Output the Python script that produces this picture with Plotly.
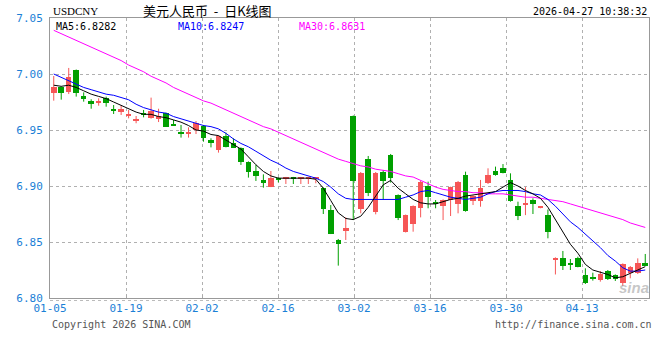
import plotly.graph_objects as go

# ---------------- data ----------------
tick_labels = ["01-05", "01-19", "02-02", "02-16", "03-02", "03-16", "03-30", "04-13"]

opens = [6.9833, 6.9887, 6.9842, 7.0036, 6.9804, 6.9759, 6.9744, 6.9783, 6.9688, 6.9661,
         6.9628, 6.9580, 6.9652, 6.9610, 6.9601, 6.9649, 6.9554, 6.9479, 6.9461, 6.9500,
         6.9536, 6.9410, 6.9320, 6.9446, 6.9387, 6.9342, 6.9217, 6.9134, 6.9054, 6.8994,
         6.9075, 6.9060, 6.9078, 6.9060, 6.9066, 6.9066, 6.8985, 6.8786, 6.8518, 6.8601,
         6.9625, 6.8798, 6.9238, 6.8771, 6.9125, 6.9277, 6.8920, 6.8592, 6.8658, 6.8806,
         6.9000, 6.8860, 6.8824, 6.8875, 6.8836, 6.9098, 6.8866, 6.8866, 6.9024, 6.9134,
         6.9158, 6.9054, 6.8824, 6.8827, 6.8875, 6.8804, 6.8741, 6.8340, 6.8354, 6.8310,
         6.8354, 6.8205, 6.8190, 6.8160, 6.8240, 6.8205, 6.8131, 6.8220, 6.8220, 6.8310]
highs = [6.9982, 6.9890, 7.0054, 7.0040, 6.9836, 6.9774, 6.9783, 6.9798, 6.9723, 6.9720,
         6.9679, 6.9625, 6.9679, 6.9789, 6.9690, 6.9655, 6.9589, 6.9545, 6.9524, 6.9580,
         6.9545, 6.9426, 6.9452, 6.9476, 6.9426, 6.9345, 6.9220, 6.9188, 6.9104, 6.9134,
         6.9078, 6.9081, 6.9081, 6.9081, 6.9075, 6.9078, 6.8988, 6.8830, 6.8527, 6.8720,
         6.9630, 6.9125, 6.9268, 6.9125, 6.9143, 6.9286, 6.8925, 6.8745, 6.8827, 6.9045,
         6.9039, 6.8875, 6.8881, 6.8994, 6.9045, 6.9128, 6.8917, 6.9054, 6.9158, 6.9173,
         6.9196, 6.9113, 6.8860, 6.8990, 6.8890, 6.8813, 6.8790, 6.8363, 6.8420, 6.8348,
         6.8369, 6.8265, 6.8226, 6.8240, 6.8250, 6.8211, 6.8309, 6.8286, 6.8354, 6.8393]
lows = [6.9762, 6.9771, 6.9821, 6.9798, 6.9753, 6.9690, 6.9717, 6.9708, 6.9643, 6.9634,
        6.9604, 6.9560, 6.9613, 6.9601, 6.9571, 6.9530, 6.9539, 6.9432, 6.9432, 6.9464,
        6.9396, 6.9345, 6.9298, 6.9345, 6.9339, 6.9188, 6.9075, 6.9045, 6.8985, 6.8990,
        6.9033, 6.9018, 6.9018, 6.9018, 6.9018, 6.9024, 6.8750, 6.8571, 6.8289, 6.8518,
        6.8696, 6.8756, 6.8910, 6.8747, 6.8875, 6.9030, 6.8696, 6.8585, 6.8592, 6.8720,
        6.8801, 6.8801, 6.8696, 6.8732, 6.8756, 6.8771, 6.8830, 6.8815, 6.9018, 6.9092,
        6.9113, 6.8860, 6.8696, 6.8740, 6.8750, 6.8801, 6.8533, 6.8210, 6.8250, 6.8250,
        6.8274, 6.8125, 6.8155, 6.8146, 6.8161, 6.8152, 6.8107, 6.8176, 6.8214, 6.8286]
closes = [6.9887, 6.9827, 6.9976, 6.9827, 6.9780, 6.9729, 6.9750, 6.9738, 6.9673, 6.9690,
          6.9637, 6.9598, 6.9637, 6.9670, 6.9625, 6.9530, 6.9539, 6.9470, 6.9485, 6.9560,
          6.9432, 6.9387, 6.9446, 6.9351, 6.9342, 6.9217, 6.9128, 6.9092, 6.9024, 6.9069,
          6.9060, 6.9078, 6.9060, 6.9078, 6.9072, 6.9075, 6.8795, 6.8571, 6.8482, 6.8625,
          6.9048, 6.9120, 6.8940, 6.9120, 6.9048, 6.9075, 6.8717, 6.8741, 6.8821, 6.9039,
          6.8899, 6.8845, 6.8875, 6.8988, 6.9039, 6.8780, 6.8911, 6.8979, 6.9098, 6.9098,
          6.9119, 6.8869, 6.8735, 6.8851, 6.8840, 6.8810, 6.8592, 6.8351, 6.8289, 6.8292,
          6.8280, 6.8137, 6.8176, 6.8214, 6.8166, 6.8166, 6.8304, 6.8280, 6.8315, 6.8286]

ma5 = [6.990, 6.989, 6.990, 6.988, 6.985, 6.982, 6.980, 6.978, 6.975, 6.972,
       6.969, 6.966, 6.964, 6.964, 6.962, 6.961, 6.959, 6.957, 6.954, 6.950,
       6.949, 6.946, 6.945, 6.941, 6.937, 6.933, 6.926, 6.919, 6.913, 6.909,
       6.907, 6.907, 6.907, 6.907, 6.907, 6.906, 6.898, 6.887, 6.876, 6.871,
       6.870, 6.873, 6.881, 6.891, 6.901, 6.905, 6.898, 6.893, 6.888, 6.885,
       6.884, 6.884, 6.886, 6.888, 6.889, 6.891, 6.892, 6.893, 6.894, 6.895,
       6.899, 6.903, 6.900, 6.896, 6.893, 6.889, 6.881, 6.870, 6.858, 6.848,
       6.840, 6.830, 6.825, 6.823, 6.821, 6.818, 6.819, 6.822, 6.825, 6.828]
ma10 = [7.000, 6.997, 6.994, 6.991, 6.988, 6.986, 6.984, 6.982, 6.981, 6.979,
        6.977, 6.973, 6.970, 6.968, 6.966, 6.965, 6.962, 6.960, 6.958, 6.956,
        6.954, 6.953, 6.951, 6.947, 6.942, 6.938, 6.935, 6.931, 6.927, 6.923,
        6.920, 6.916, 6.913, 6.911, 6.909, 6.907, 6.904, 6.899, 6.893, 6.889,
        6.888, 6.888, 6.888, 6.888, 6.888, 6.888, 6.888, 6.890, 6.892, 6.895,
        6.896, 6.894, 6.892, 6.890, 6.889, 6.888, 6.889, 6.890, 6.893, 6.895,
        6.896, 6.896, 6.896, 6.895, 6.893, 6.892, 6.888, 6.882, 6.875, 6.868,
        6.863, 6.857, 6.851, 6.845, 6.838, 6.833, 6.827, 6.824, 6.824, 6.825]
ma30 = [7.039, 7.036, 7.033, 7.030, 7.027, 7.024, 7.021, 7.018, 7.015, 7.012,
        7.008, 7.005, 7.002, 6.998, 6.995, 6.992, 6.988, 6.985, 6.982, 6.979,
        6.976, 6.974, 6.971, 6.968, 6.965, 6.962, 6.959, 6.956, 6.953, 6.951,
        6.948, 6.945, 6.942, 6.939, 6.936, 6.933, 6.930, 6.927, 6.924, 6.922,
        6.920, 6.918, 6.917, 6.915, 6.914, 6.913, 6.911, 6.909, 6.908, 6.905,
        6.902, 6.899, 6.897, 6.896, 6.895, 6.895, 6.894, 6.894, 6.893, 6.893,
        6.893, 6.892, 6.891, 6.890, 6.890, 6.889, 6.888, 6.887, 6.886, 6.884,
        6.882, 6.880, 6.878, 6.876, 6.874, 6.872, 6.870, 6.867, 6.865, 6.863]

ma_last = {"MA5": "6.8282", "MA10": "6.8247", "MA30": "6.8631"}
symbol = "USDCNY"
title_text = "美元人民币\u00a0\u00a0-\u00a0\u00a0日K线图"
timestamp = "2026-04-27 10:38:32"

# ---------------- layout geometry ----------------
W, H = 660, 360
L, R, T, B = 50, 11, 18, 62
PW, PH = W - L - R, H - T - B
UP, DOWN = "#f65656", "#00a000"
BLUE_TXT = "#1a80d6"
MONO = "DejaVu Sans Mono, monospace"


def pxx(x):
    return (x - L) / PW


def pxy(y):
    return (H - B - y) / PH


n = len(opens)
idx = list(range(n))
is_up = [c >= o for o, c in zip(opens, closes)]

fig = go.Figure()

# wicks
for flag, col in ((True, UP), (False, DOWN)):
    wx, wy = [], []
    for i in idx:
        if is_up[i] == flag:
            wx += [i, i, None]
            wy += [lows[i], highs[i], None]
    fig.add_trace(go.Scatter(x=wx, y=wy, mode="lines", line=dict(color=col, width=1),
                             hoverinfo="skip", showlegend=False))

# bodies
base = [min(o, c) for o, c in zip(opens, closes)]
height = [max(abs(c - o), 0.0011) for o, c in zip(opens, closes)]
fig.add_trace(go.Bar(x=idx, y=height, base=base, width=0.74,
                     marker=dict(color=[UP if u else DOWN for u in is_up], line=dict(width=0)),
                     showlegend=False, hoverinfo="skip"))

# moving averages
for vals, col in ((ma30, "#ff00ff"), (ma10, "#0000ff"), (ma5, "#000000")):
    fig.add_trace(go.Scatter(x=idx, y=vals, mode="lines", line=dict(color=col, width=1),
                             showlegend=False, hoverinfo="skip"))

# x ticks every 76 px
unit = PW / n
tickvals = [-0.5 + 76 * k / unit for k in range(len(tick_labels))]

fig.update_layout(
    width=W, height=H,
    margin=dict(l=L, r=R, t=T, b=B, pad=0),
    paper_bgcolor="white", plot_bgcolor="white",
    bargap=0,
    xaxis=dict(range=[-0.5, n - 0.5], tickvals=tickvals, ticktext=tick_labels,
               showgrid=True, gridcolor="#b0b0b0", griddash="dot", gridwidth=1,
               zeroline=False, showline=True, linecolor="#999999", linewidth=1, mirror=True,
               ticks="inside", ticklen=3, tickcolor="#aaaaaa",
               tickfont=dict(family=MONO, size=11, color=BLUE_TXT), fixedrange=True),
    yaxis=dict(range=[6.80, 7.05], tickvals=[6.80, 6.85, 6.90, 6.95, 7.00, 7.05],
               ticktext=["6.80", "6.85", "6.90", "6.95", "7.00", "7.05"],
               showgrid=True, gridcolor="#b0b0b0", griddash="dot", gridwidth=1,
               zeroline=False, showline=True, linecolor="#999999", linewidth=1, mirror=True,
               ticks="", ticklabelstandoff=4,
               tickfont=dict(family=MONO, size=11, color=BLUE_TXT), fixedrange=True),
    showlegend=False,
)

# dotted line just under the bottom axis
fig.add_shape(type="line", xref="paper", yref="paper", x0=0, x1=1,
              y0=-2.5 / PH, y1=-2.5 / PH, line=dict(color="#bbbbbb", width=1, dash="dot"))

ann = []
ann.append(dict(text=symbol, x=pxx(51), y=pxy(11), xanchor="left", yanchor="middle",
                font=dict(family="Liberation Serif, serif", size=11, color="#000")))
ann.append(dict(text=title_text, x=pxx(141), y=pxy(10.5), xanchor="left", yanchor="middle",
                font=dict(family="Noto Sans CJK SC", size=13, color="#000")))
ann.append(dict(text=timestamp, x=pxx(649), y=pxy(11), xanchor="right", yanchor="middle",
                font=dict(family=MONO, size=10, color="#000")))
for (name, val), xpos, col in zip(ma_last.items(), (54, 176, 297), ("#000000", "#0000ff", "#ff00ff")):
    ann.append(dict(text=f"{name}:{val}", x=pxx(xpos), y=pxy(26), xanchor="left", yanchor="middle",
                    font=dict(family=MONO, size=10, color=col)))
ann.append(dict(text="Copyright 2026 SINA.COM", x=pxx(50), y=pxy(324), xanchor="left", yanchor="middle",
                font=dict(family=MONO, size=10, color="#555")))
ann.append(dict(text="http://finance.sina.com.cn", x=pxx(654), y=pxy(324), xanchor="right", yanchor="middle",
                font=dict(family=MONO, size=10, color="#555")))
ann.append(dict(text="<b><i>sina</i></b>", x=pxx(634), y=pxy(287), xanchor="center", yanchor="middle",
                font=dict(family="Liberation Sans, Arial", size=15, color="rgba(150,150,150,0.55)")))
for a in ann:
    a.update(xref="paper", yref="paper", showarrow=False)
fig.update_layout(annotations=ann)

fig.write_html("out.html", config={"displayModeBar": False},
               post_script="document.body.style.margin='0';document.body.style.overflow='hidden';")
